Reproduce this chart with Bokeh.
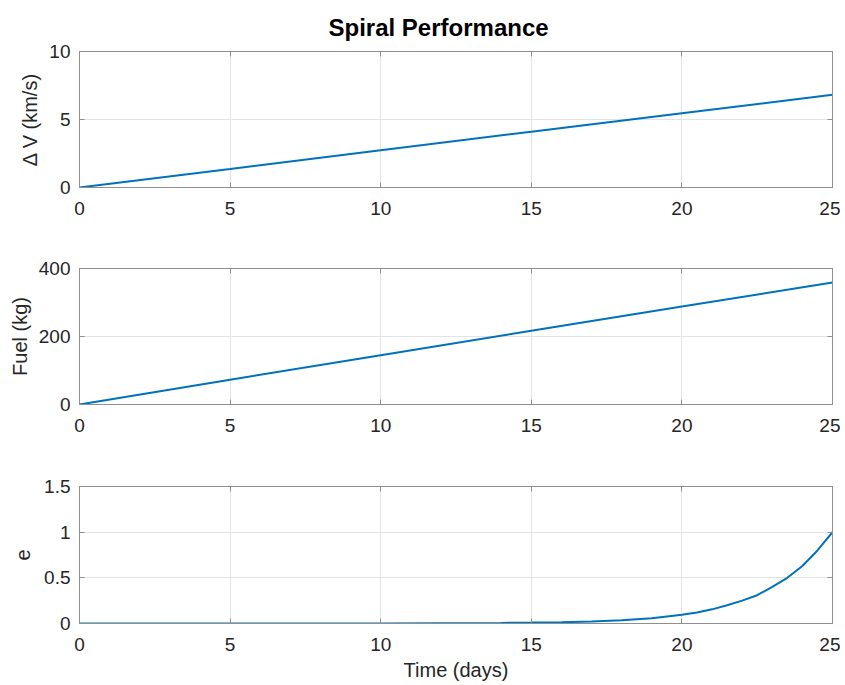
from bokeh.plotting import figure
from bokeh.layouts import column
from bokeh.models import FixedTicker, LinearAxis, Range1d, CustomLabelingPolicy
from bokeh.embed import file_html
from bokeh.resources import INLINE

# ---- data ----
time_lin = [0, 5, 10, 15, 20, 25]
delta_v = [0, 1.36, 2.74, 4.1, 5.46, 6.82]
fuel = [0, 73, 145, 217, 288, 359]

time_e = [0, 5, 10, 12, 14, 15, 16, 17, 18, 19, 20, 20.5, 21, 21.5, 22,
          22.5, 23, 23.5, 24, 24.5, 25]
ecc = [0, 0.0005, 0.001, 0.003, 0.006, 0.01, 0.015, 0.023, 0.036, 0.058,
       0.095, 0.12, 0.155, 0.2, 0.25, 0.31, 0.4, 0.5, 0.63, 0.8, 1.0]

x_ticks = [0, 5, 10, 15, 20, 25]
dv_ticks = [0, 5, 10]
fuel_ticks = [0, 200, 400]
e_ticks = [0, 0.5, 1, 1.5]

title_text = "Spiral Performance"
x_label = "Time (days)"
dv_label = "\u0394 V (km/s)"
fuel_label = "Fuel (kg)"
e_label = "e"

FONT = "Liberation Sans"
AX = "#8f8f8f"
TXT = "#262626"
LINE = "#0072BD"


def style_axis(ax, ticks, show_labels=True):
    ax.ticker = FixedTicker(ticks=ticks)
    ax.axis_line_color = AX
    ax.major_tick_line_color = AX
    ax.major_tick_in = 5
    ax.major_tick_out = 0
    ax.minor_tick_line_color = None
    ax.major_label_text_font = FONT
    ax.major_label_text_color = TXT
    ax.major_label_text_font_size = "19px"
    ax.axis_label_text_font = FONT
    ax.axis_label_text_color = TXT
    ax.axis_label_text_font_style = "normal"
    ax.axis_label_text_font_size = "20px"
    if not show_labels:
        ax.major_label_policy = CustomLabelingPolicy(code="return new Set()")
        ax.major_label_text_font_size = "0px"
        ax.major_label_standoff = 0


def make_fig(height, top, bottom, yr, yticks, ylabel, ylab_standoff,
             xs, ys, xlabel=None):
    p = figure(width=840, height=height, x_range=Range1d(0, 25),
               y_range=Range1d(*yr), output_backend="svg",
               toolbar_location=None, min_border_left=79,
               min_border_right=8, min_border_top=top,
               min_border_bottom=bottom)
    p.outline_line_color = AX
    p.background_fill_color = "white"
    p.border_fill_color = "white"
    style_axis(p.xaxis[0], x_ticks)
    p.xaxis[0].major_label_standoff = 14
    style_axis(p.yaxis[0], yticks)
    p.yaxis[0].major_label_standoff = 9
    p.yaxis[0].axis_label = ylabel
    p.yaxis[0].axis_label_standoff = ylab_standoff
    if xlabel:
        p.xaxis[0].axis_label = xlabel
        p.xaxis[0].axis_label_standoff = 5
    top_ax = LinearAxis()
    style_axis(top_ax, x_ticks, show_labels=False)
    p.add_layout(top_ax, "above")
    right_ax = LinearAxis()
    style_axis(right_ax, yticks, show_labels=False)
    p.add_layout(right_ax, "right")
    p.xgrid.ticker = FixedTicker(ticks=x_ticks)
    p.ygrid.ticker = FixedTicker(ticks=yticks)
    p.grid.grid_line_color = "#e3e3e3"
    p.grid.grid_line_width = 1
    p.line(xs, ys, line_color=LINE, line_width=2)
    return p


p1 = make_fig(238, 51, 51, (0, 10), dv_ticks, dv_label, 5, time_lin, delta_v)
p1.title.text = title_text
p1.title.align = "left"
p1.title.text_font = FONT
p1.title.text_font_size = "24px"
p1.title.text_font_style = "bold"
p1.title.text_color = "black"
p1.title.offset = 249
p1.title.standoff = 21

p2 = make_fig(218, 30, 52, (0, 400), fuel_ticks, fuel_label, 5, time_lin, fuel)
p3 = make_fig(228, 30, 61, (0, 1.5), e_ticks, e_label, 11, time_e, ecc,
              xlabel=x_label)

layout = column(p1, p2, p3, spacing=0)
open("out.html", "w").write(file_html(layout, INLINE))
